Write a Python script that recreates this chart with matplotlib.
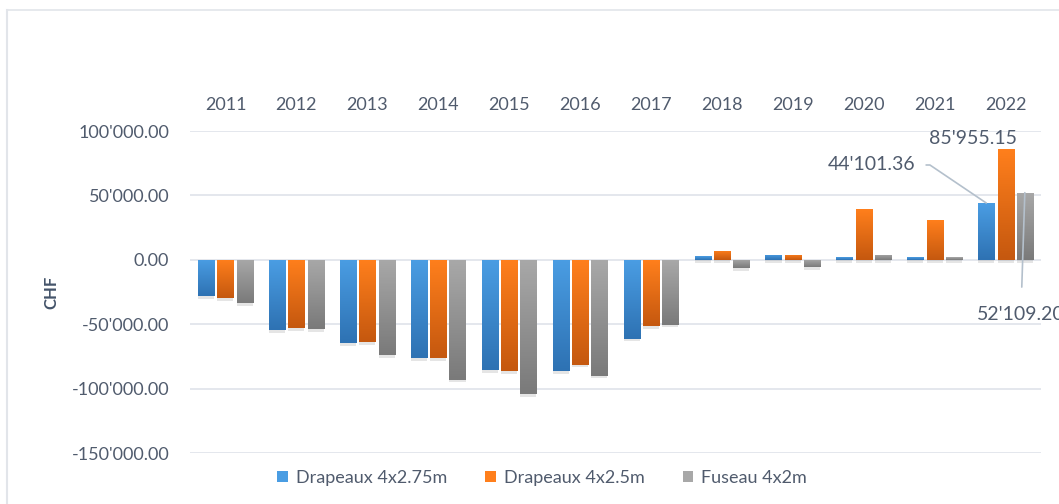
import matplotlib.pyplot as plt
import numpy as np
from matplotlib.lines import Line2D
from matplotlib import patheffects as pe
from matplotlib.colors import LinearSegmentedColormap

# Data
years = ['2011', '2012', '2013', '2014', '2015', '2016',
         '2017', '2018', '2019', '2020', '2021', '2022']
drapeaux_275 = [-28400, -54300, -64600, -76200, -85800, -86600,
                -61200, 3100, 3900, 1800, 2300, 44101.36]
drapeaux_25 = [-29700, -53000, -63800, -76200, -86600, -81400,
               -51200, 7200, 3900, 39300, 31000, 85955.15]
fuseau_42 = [-33600, -53800, -73900, -93000, -104100, -89900,
             -50400, -6700, -5900, 3900, 2300, 52109.20]

series = [
    ('Drapeaux 4x2.75m', drapeaux_275, '#4a9de3', '#2e72b3'),
    ('Drapeaux 4x2.5m', drapeaux_25, '#ff7f1c', '#c5580f'),
    ('Fuseau 4x2m', fuseau_42, '#a8a8a8', '#7a7a7a'),
]

text_col = '#505b6d'
plt.rcParams['font.family'] = ['Lato', 'DejaVu Sans']

fig = plt.figure(figsize=(10.59, 5.04), dpi=100)
ax = fig.add_axes([190 / 1059, 51 / 504, 851 / 1059, 322 / 504])

x = np.arange(len(years))
width = 0.226
step = 0.272

# bars with a vertical gradient and a soft shadow
grad = np.linspace(0, 1, 64).reshape(-1, 1)
for i, (name, vals, top, bottom) in enumerate(series):
    bars = ax.bar(x + (i - 1) * step, vals, width, color=top, label=name, zorder=3,
                  path_effects=[pe.SimplePatchShadow(offset=(0, -2), shadow_rgbFace='#000000', alpha=0.1),
                                pe.Normal()])
    cmap = LinearSegmentedColormap.from_list(name, [bottom, top])
    for b in bars:
        x0, y0 = b.get_x(), b.get_y()
        w, h = b.get_width(), b.get_height()
        lo, hi = min(y0, y0 + h), max(y0, y0 + h)
        im = ax.imshow(grad, cmap=cmap, aspect='auto', origin='lower',
                       extent=(x0, x0 + w, lo, hi), zorder=3.5)
        im.set_clip_path(b)

ax.set_xlim(-0.5, len(years) - 0.5)
ax.set_ylim(-150000, 100000)
ax.set_yticks(np.arange(-150000, 100001, 50000))
ax.set_yticklabels([f"{v:,.2f}".replace(',', "'") for v in np.arange(-150000, 100001, 50000)])
ax.set_xticks(x)
ax.set_xticklabels(years)
ax.xaxis.tick_top()
ax.tick_params(axis='x', length=0, pad=13, labelsize=13, labelcolor=text_col)
ax.tick_params(axis='y', length=0, pad=15, labelsize=13, labelcolor=text_col)
ax.grid(axis='y', color='#dfe3ea', linewidth=1.2, zorder=0)
for s in ax.spines.values():
    s.set_visible(False)

ax.set_ylabel('CHF', fontsize=12, fontweight='bold', color='#44546a', labelpad=9)

# Data labels for 2022
ann = dict(fontsize=14, color=text_col, annotation_clip=False, zorder=6)
ax.annotate("44'101.36", xy=(11 - step, drapeaux_275[11]), xytext=(915, 504 - 165),
            textcoords='figure pixels', ha='right', va='center',
            arrowprops=dict(arrowstyle='-', color='#b4c0cc', lw=1.2,
                            connectionstyle='angle,angleA=0,angleB=146,rad=0',
                            shrinkA=6, shrinkB=0), **ann)
ax.annotate("85'955.15", xy=(11, drapeaux_25[11]), xytext=(973, 504 - 138),
            textcoords='figure pixels', ha='center', va='center', **ann)
ax.annotate("52'109.20", xy=(11 + step, fuseau_42[11]), xytext=(977, 504 - 315),
            textcoords='figure pixels', ha='left', va='center',
            arrowprops=dict(arrowstyle='-', color='#b4c0cc', lw=1.2,
                            shrinkA=12, shrinkB=0), **ann)

leg = ax.legend(loc='center', bbox_to_anchor=(542 / 1059, 26 / 504), bbox_transform=fig.transFigure,
                ncol=3, frameon=False, fontsize=13, handlelength=0.6, handleheight=0.6,
                columnspacing=2.1, handletextpad=0.45)
for t in leg.get_texts():
    t.set_color(text_col)
for h in leg.legend_handles:
    h.set_path_effects([])

# Outer chart border (top and left)
fig.add_artist(Line2D([7 / 1059, 1], [1 - 10 / 504, 1 - 10 / 504], color='#e2e5ea', lw=1.2))
fig.add_artist(Line2D([7 / 1059, 7 / 1059], [0, 1 - 10 / 504], color='#e2e5ea', lw=1.5))

fig.savefig('out.png', dpi=100)
